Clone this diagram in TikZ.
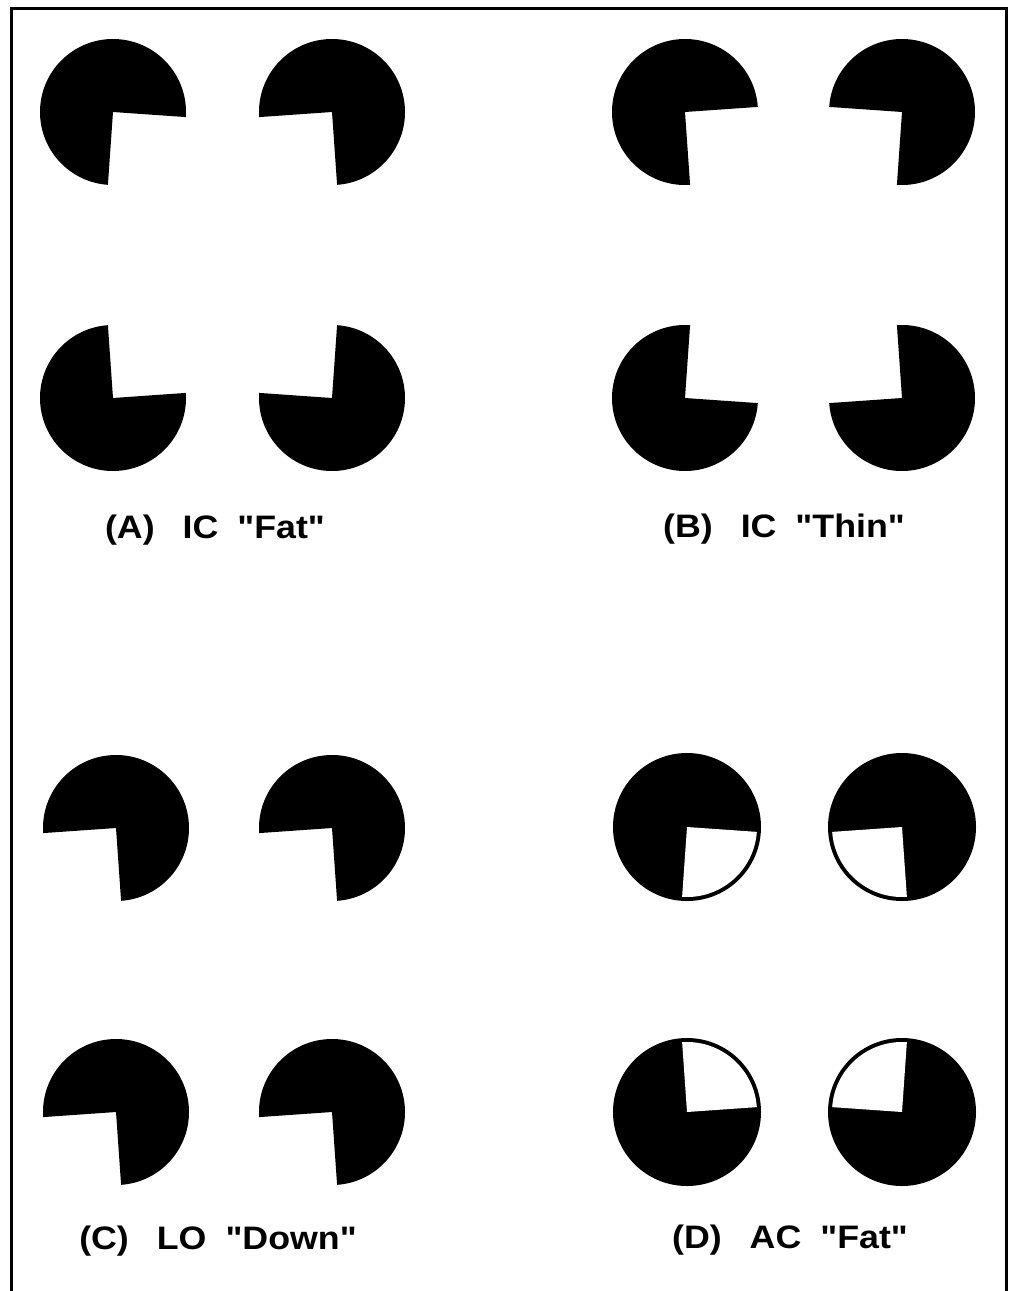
\documentclass[tikz,border=0pt]{standalone}
\usepackage{fontspec}
\newfontfamily\lblfont[FakeStretch=1.1]{Liberation Sans}
\tikzset{
  every picture/.style={x=1pt, y=1pt},
  frame/.style={draw=black, line width=3pt},
  lbl/.style={font=\lblfont\bfseries\fontsize{32.5}{38}\selectfont, inner sep=0pt, anchor=base},
}
% filled disc of radius 73 with a 90 degree mouth starting at angle #3
\newcommand{\pacman}[3]{%
  \fill (#1,#2) -- ++(#3+90:73) arc[start angle=#3+90, end angle=#3+360, radius=73] -- cycle;}
% same disc, mouth closed by an outline
\newcommand{\amodal}[3]{%
  \fill (#1,#2) circle[radius=74];
  \fill[white] (#1,#2) -- ++(#3:70) arc[start angle=#3, end angle=#3+90, radius=70] -- cycle;}

\begin{document}
\begin{tikzpicture}
  \useasboundingbox (0,0) rectangle (1016,-1291);
  \draw[frame] (11,-1291) -- (11,-8) -- (1006,-8) -- (1006,-1291);

  % (A) illusory contour, fat
  \foreach \cx/\cy/\a in {113/-112/-94, 332/-112/184, 113/-398/4, 332/-398/86}
    \pacman{\cx}{\cy}{\a};
  % (B) illusory contour, thin
  \foreach \cx/\cy/\a in {685/-112/-86, 902/-112/176, 685/-398/-4, 902/-398/94}
    \pacman{\cx}{\cy}{\a};
  % (C) local orientation
  \foreach \cx/\cy in {116/-828, 332/-828, 116/-1112, 332/-1112}
    \pacman{\cx}{\cy}{184};
  % (D) amodal completion
  \foreach \cx/\cy/\a in {687/-827/-94, 902/-827/184, 687/-1112/4, 902/-1112/86}
    \amodal{\cx}{\cy}{\a};

  \node[lbl] (labA) at (215,-538) {(A)\hspace{28pt}IC\hspace{19pt}"Fat"};
  \node[lbl] (labB) at (784,-537) {(B)\hspace{28pt}IC\hspace{19pt}"Thin"};
  \node[lbl] (labC) at (218,-1249) {(C)\hspace{28pt}LO\hspace{19pt}"Down"};
  \node[lbl] (labD) at (790,-1248) {(D)\hspace{28pt}AC\hspace{19pt}"Fat"};
\end{tikzpicture}
\end{document}
